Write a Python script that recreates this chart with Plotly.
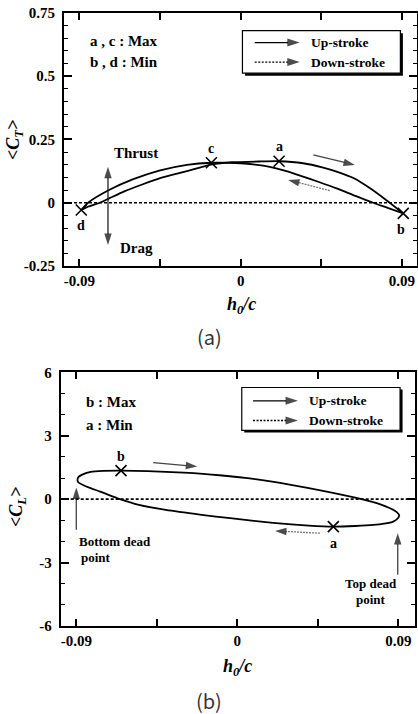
import plotly.graph_objects as go

# ---------------- (a) thrust coefficient vs h/c ----------------
ct_up_x = [-0.089, -0.085, -0.0787, -0.0735, -0.065, -0.055, -0.045, -0.030, -0.016, -0.005, 0.010, 0.0214, 0.0348, 0.0455, 0.0535, 0.064, 0.072, 0.0811, 0.0907]
ct_up_y = [-0.029, -0.015, 0.0, 0.017, 0.045, 0.072, 0.097, 0.125, 0.152, 0.160, 0.163, 0.164, 0.156, 0.140, 0.123, 0.094, 0.058, 0.011, -0.042]
ct_dn_x = [0.0907, 0.082, 0.0739, 0.064, 0.0535, 0.044, 0.0348, 0.025, 0.0162, 0.008, 0.0, -0.0164, -0.030, -0.045, -0.060, -0.0735, -0.0852, -0.089]
ct_dn_y = [-0.042, -0.020, 0.0, 0.027, 0.057, 0.081, 0.103, 0.126, 0.142, 0.151, 0.156, 0.158, 0.150, 0.128, 0.093, 0.050, 0.0, -0.029]
ct_ext_x = [0.0214, -0.0164, 0.0907, -0.089]
ct_ext_y = [0.164, 0.158, -0.042, -0.029]
ct_ext_lbl = ["a", "c", "b", "d"]
ct_yticks = [-0.25, 0, 0.25, 0.5, 0.75]
ct_yticktext = ["-0.25", "0", "0.25", "0.5", "0.75"]

# ---------------- (b) lift coefficient vs h/c ----------------
cl_up_x = [-0.0894, -0.0889, -0.087, -0.082, -0.075, -0.065, -0.050, -0.030, -0.010, 0.010, 0.030, 0.050, 0.0695, 0.080, 0.0854, 0.089, 0.0906]
cl_up_y = [0.91, 1.04, 1.15, 1.29, 1.34, 1.35, 1.33, 1.25, 1.13, 0.95, 0.68, 0.36, 0.0, -0.25, -0.43, -0.60, -0.75]
cl_dn_x = [0.0906, 0.090, 0.0872, 0.082, 0.076, 0.066, 0.0537, 0.040, 0.020, -0.004, -0.020, -0.040, -0.055, -0.0656, -0.0767, -0.082, -0.086, -0.0889, -0.0894]
cl_dn_y = [-0.75, -0.88, -1.06, -1.16, -1.22, -1.27, -1.30, -1.25, -1.12, -0.90, -0.74, -0.51, -0.27, 0.0, 0.36, 0.52, 0.66, 0.80, 0.91]
cl_ext_x = [-0.065, 0.0537]
cl_ext_y = [1.35, -1.30]
cl_ext_lbl = ["b", "a"]
cl_yticks = [-6, -3, 0, 3, 6]
cl_yticktext = ["-6", "-3", "0", "3", "6"]

x_ticks = [-0.09, 0, 0.09]
x_ticktext = ["-0.09", "0", "0.09"]
x_minor = [-0.045, 0.045]

SERIF = "Liberation Serif"
fig = go.Figure()

LINE = dict(color="black", width=1.8, shape="spline", smoothing=0.6)
# curves
fig.add_trace(go.Scatter(x=ct_up_x, y=ct_up_y, mode="lines", line=LINE, xaxis="x", yaxis="y", showlegend=False))
fig.add_trace(go.Scatter(x=ct_dn_x, y=ct_dn_y, mode="lines", line=LINE, xaxis="x", yaxis="y", showlegend=False))
fig.add_trace(go.Scatter(x=ct_ext_x, y=ct_ext_y, mode="markers", marker=dict(symbol="x-thin", size=11, line=dict(width=1.6, color="black")), xaxis="x", yaxis="y", showlegend=False))

fig.add_trace(go.Scatter(x=cl_up_x, y=cl_up_y, mode="lines", line=LINE, xaxis="x2", yaxis="y2", showlegend=False))
fig.add_trace(go.Scatter(x=cl_dn_x, y=cl_dn_y, mode="lines", line=LINE, xaxis="x2", yaxis="y2", showlegend=False))
fig.add_trace(go.Scatter(x=cl_ext_x, y=cl_ext_y, mode="markers", marker=dict(symbol="x-thin", size=11, line=dict(width=1.6, color="black")), xaxis="x2", yaxis="y2", showlegend=False))

# zero lines (dotted)
for ax in ["x", "x2"]:
    yref = "y" if ax == "x" else "y2"
    fig.add_shape(type="line", xref=ax + " domain", yref=yref, x0=0, x1=1, y0=0, y1=0,
                  line=dict(color="black", width=1.6, dash="3px,2px"))


def arrow(x0, y0, x1, y1, xa, ya, dash="solid", color="black", width=1.3, size=12):
    fig.add_trace(go.Scatter(x=[x0, x1], y=[y0, y1], mode="lines+markers",
                             line=dict(color=color, width=width, dash=dash),
                             marker=dict(symbol="arrow", size=[0, size], angleref="previous", color="black",
                                         line=dict(width=0)),
                             xaxis=xa, yaxis=ya, showlegend=False, hoverinfo="skip"))


# arrows on (a)
arrow(0.0405, 0.189, 0.0637, 0.149, "x", "y", color="#444")
arrow(0.0497, 0.048, 0.0264, 0.090, "x", "y", dash="2px,1px", color="#777")
arrow(-0.0741, 0.0, -0.0741, 0.142, "x", "y", color="#222")
arrow(-0.0741, 0.0, -0.0741, -0.167, "x", "y", color="#222")
# legend box arrows (a)
arrow(0.0078, 0.633, 0.0329, 0.633, "x", "y", size=13)
arrow(0.0078, 0.556, 0.0329, 0.556, "x", "y", dash="2px,1.5px", size=13)

# arrows on (b)
arrow(-0.0470, 1.73, -0.0224, 1.54, "x2", "y2", color="#444")
arrow(0.0462, -1.61, 0.0211, -1.50, "x2", "y2", dash="2px,1px", color="#777")
arrow(-0.090, -1.45, -0.090, 0.55, "x2", "y2", color="#444")
arrow(0.0897, -3.58, 0.0897, -1.61, "x2", "y2", color="#444")
arrow(0.0088, 4.65, 0.0339, 4.65, "x2", "y2", size=13)
arrow(0.0088, 3.72, 0.0339, 3.72, "x2", "y2", dash="2px,1.5px", size=13)

# legend boxes with shadow
fig.add_shape(type="rect", xref="x", yref="y", x0=0.0024, x1=0.0905, y0=0.502, y1=0.670, fillcolor="black", line=dict(width=0), layer="below")
fig.add_shape(type="rect", xref="x", yref="y", x0=0.00095, x1=0.0891, y0=0.512, y1=0.680, fillcolor="white", line=dict(color="black", width=1.2), layer="below")
fig.add_shape(type="rect", xref="x2", yref="y2", x0=0.0039, x1=0.0924, y0=3.15, y1=5.18, fillcolor="black", line=dict(width=0), layer="below")
fig.add_shape(type="rect", xref="x2", yref="y2", x0=0.0025, x1=0.0910, y0=3.25, y1=5.28, fillcolor="white", line=dict(color="black", width=1.2), layer="below")

ann = []
def txt(x, y, s, xr, yr, size=14, xanchor="center", family=SERIF, color="black", angle=0, bold=True):
    ann.append(dict(x=x, y=y, xref=xr, yref=yr, text=("<b>%s</b>" % s) if bold else s, showarrow=False,
                    xanchor=xanchor, yanchor="middle", textangle=angle,
                    font=dict(family=family, size=size, color=color)))

# (a) texts
for xv, yv, lb in zip(ct_ext_x, ct_ext_y, ct_ext_lbl):
    off = 0.058 if lb in ("a", "c") else -0.062
    txt(xv - (0.0015 if lb == "b" else 0.0), yv + off, lb, "x", "y", size=14)
txt(-0.0855, 0.64, "a , c : Max", "x", "y", size=15, xanchor="left")
txt(-0.0855, 0.555, "b , d : Min", "x", "y", size=15, xanchor="left")
txt(-0.0583, 0.198, "Thrust", "x", "y", size=15)
txt(-0.0583, -0.18, "Drag", "x", "y", size=15)
txt(0.0381, 0.633, "Up-stroke", "x", "y", size=13.5, xanchor="left")
txt(0.0381, 0.556, "Down-stroke", "x", "y", size=13.5, xanchor="left")

# (b) texts
for xv, yv, lb in zip(cl_ext_x, cl_ext_y, cl_ext_lbl):
    off = 0.67 if lb == "b" else -0.81
    txt(xv, yv + off, lb, "x2", "y2", size=14)
txt(-0.0855, 4.59, "b : Max", "x2", "y2", size=15, xanchor="left")
txt(-0.0855, 3.51, "a : Min", "x2", "y2", size=15, xanchor="left")
txt(0.039, 4.65, "Up-stroke", "x2", "y2", size=13.5, xanchor="left")
txt(0.039, 3.72, "Down-stroke", "x2", "y2", size=13.5, xanchor="left")
txt(-0.0895, -2.0, "Bottom dead", "x2", "y2", size=13, xanchor="left")
txt(-0.0885, -2.76, "point", "x2", "y2", size=13, xanchor="left")
txt(0.0747, -4.0, "Top dead", "x2", "y2", size=13)
txt(0.0747, -4.76, "point", "x2", "y2", size=13)

# axis titles
txt(0.0359, 0.804, "<i>&lt;C<sub>T</sub>&gt;</i>", "paper", "paper", size=18, angle=-90)
txt(0.5766, 0.5728, "<i>h<sub>0</sub>/c</i>", "paper", "paper", size=18)
txt(0.0407, 0.2899, "<i>&lt;C<sub>L</sub>&gt;</i>", "paper", "paper", size=18, angle=-90)
txt(0.567, 0.0658, "<i>h<sub>0</sub>/c</i>", "paper", "paper", size=18)
txt(0.5, 0.5284, "(a)", "paper", "paper", size=20, family="Noto Sans CJK KR", color="#333", bold=False)
txt(0.5, 0.0196, "(b)", "paper", "paper", size=20, family="Noto Sans CJK KR", color="#333", bold=False)

tickfont = dict(family=SERIF, size=15, color="black")

def xax(domain, rng, anchor):
    return dict(domain=domain, range=rng, anchor=anchor, tickvals=x_ticks, ticktext=["<b>%s</b>" % t for t in x_ticktext],
                ticks="inside", ticklen=7, tickwidth=1.5, tickcolor="black", showline=True, linewidth=2,
                linecolor="black", mirror="ticks", showgrid=False, zeroline=False, tickfont=tickfont,
                minor=dict(tickvals=x_minor, ticks="inside", ticklen=7, tickwidth=1.5, tickcolor="black"),
                automargin=False, fixedrange=True)

def yax(domain, rng, anchor, tv, tt, mdt):
    return dict(domain=domain, range=rng, anchor=anchor, tickvals=tv, ticktext=["<b>%s</b>" % t for t in tt],
                ticks="inside", ticklen=8, tickwidth=1.5, tickcolor="black", showline=True, linewidth=2,
                linecolor="black", mirror="ticks", showgrid=False, zeroline=False, tickfont=tickfont,
                minor=dict(dtick=mdt, ticks="inside", ticklen=4, tickwidth=1.2, tickcolor="black"),
                automargin=False, fixedrange=True, ticklabelstandoff=4)

fig.update_layout(
    width=418, height=714, margin=dict(l=0, r=0, t=0, b=0),
    paper_bgcolor="white", plot_bgcolor="white",
    xaxis=xax([0.1531, 0.9976], [-0.09865, 0.09837], "y"),
    yaxis=yax([0.6275, 0.9818], [-0.25, 0.75], "x", ct_yticks, ct_yticktext, 0.05),
    xaxis2=xax([0.1452, 0.9928], [-0.09872, 0.09934], "y2"),
    yaxis2=yax([0.1232, 0.4786], [-6, 6], "x2", cl_yticks, cl_yticktext, 1),
    annotations=ann,
    showlegend=False,
)

fig.write_html("out.html", config={"displayModeBar": False},
               post_script="document.body.style.margin='0';document.body.style.overflow='hidden';")
